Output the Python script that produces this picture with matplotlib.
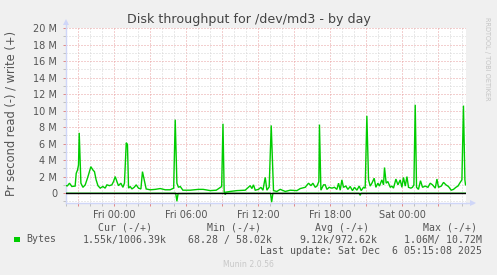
import matplotlib
matplotlib.use("Agg")
import matplotlib.pyplot as plt
from matplotlib.ticker import MultipleLocator, FixedLocator, FixedFormatter
from matplotlib.patches import Rectangle

# ---- data (hours relative to Fri 00:00, values in MB/s) ----
write_hours = [-4.08, -3.92, -3.75, -3.55, -3.28, -3.19, -3.08, -3.0, -2.94, -2.8, -2.63, -2.44,
               -2.3, -2.17, -1.97, -1.8, -1.67, -1.53, -1.38, -1.19, -0.97, -0.78, -0.63, -0.42,
               -0.22, -0.08, 0.06, 0.2, 0.33, 0.53, 0.7, 0.83, 0.98, 1.08, 1.17, 1.31, 1.45, 1.64,
               1.81, 2.0, 2.2, 2.33, 2.48, 2.64, 2.98, 3.39, 3.81, 4.23, 4.64, 4.93, 5.06, 5.2,
               5.33, 5.48, 5.7, 6.31, 6.98, 7.39, 7.98, 8.48, 8.93, 9.04, 9.14, 9.23, 9.64, 10.2,
               10.89, 11.31, 11.45, 11.58, 11.73, 12.0, 12.2, 12.37, 12.56, 12.7, 12.89, 13.06,
               13.25, 13.53, 13.81, 14.23, 14.64, 15.2, 15.48, 15.89, 16.17, 16.37, 16.53, 16.73,
               16.87, 17.03, 17.08, 17.2, 17.42, 17.56, 17.7, 17.89, 18.12, 18.33, 18.53, 18.67,
               18.81, 18.95, 19.08, 19.28, 19.45, 19.64, 19.83, 20.0, 20.2, 20.39, 20.56, 20.75,
               20.89, 21.03, 21.17, 21.31, 21.45, 21.64, 21.78, 21.95, 22.08, 22.28, 22.42, 22.5,
               22.64, 22.78, 22.98, 23.12, 23.25, 23.45, 23.62, 23.81, 23.95, 24.08, 24.23, 24.37,
               24.5, 24.7, 24.83, 24.95, 25.06, 25.17, 25.33, 25.5, 25.67, 25.89, 26.12, 26.31,
               26.5, 26.73, 26.87, 27.0, 27.23, 27.42, 27.62, 27.83, 28.06, 28.25, 28.45, 28.62,
               28.81, 28.95, 29.08, 29.2, 29.25]
write_mb = [0.9, 0.88, 1.2, 0.8, 0.85, 2.4, 2.8, 3.4, 7.3, 1.2, 0.7, 1.0,
            1.6, 2.2, 3.2, 2.8, 2.6, 1.6, 0.9, 0.6, 0.8, 0.6, 1.0, 0.9,
            1.0, 1.4, 2.0, 1.4, 0.9, 1.2, 0.7, 1.2, 6.1, 5.9, 0.6, 0.8, 0.5, 0.7,
            1.0, 0.6, 0.5, 2.6, 1.6, 0.5, 0.4, 0.45, 0.55, 0.4, 0.4, 0.6, 8.9, 1.2,
            0.7, 0.8, 0.35, 0.35, 0.45, 0.45, 0.3, 0.35, 0.8, 8.4, 0.1, 0.1, 0.2, 0.3,
            0.35, 0.9, 0.55, 1.0, 0.35, 0.45, 0.7, 0.35, 1.9, 0.35, 0.75, 8.2,
            0.3, 0.2, 0.45, 0.2, 0.35, 0.3, 0.55, 0.7, 1.2, 0.9, 1.2, 0.7,
            0.85, 1.4, 8.3, 0.35, 1.0, 1.0, 0.45, 0.7, 0.6, 0.7, 0.45, 1.2,
            0.35, 1.6, 0.7, 0.85, 0.45, 0.8, 0.3, 0.7, 0.35, 0.85, 0.3, 0.7,
            0.6, 9.36, 1.6, 0.85, 1.2, 1.8, 0.7, 1.2, 0.85, 1.6, 1.0, 3.1,
            1.2, 1.4, 0.7, 0.85, 0.6, 1.7, 1.0, 1.6, 0.7, 1.9, 0.85, 2.0,
            0.7, 0.6, 0.7, 1.0, 10.7, 0.7, 0.45, 1.5, 0.7, 0.85, 0.7, 1.2,
            1.0, 0.6, 1.7, 0.7, 0.85, 1.3, 1.0, 0.8, 0.35, 0.45, 0.7, 0.85,
            1.3, 1.6, 10.6, 1.6, 1.0]

read_hours = [-4.08, 5.1, 5.2, 5.3, 9.15, 9.23, 9.3, 13.0, 13.1, 13.2, 20.39, 20.47, 20.55, 29.25]
read_mb = [0.02, 0.02, 0.95, 0.05, 0.02, 0.15, 0.02, 0.02, 1.05, 0.02, 0.02, 0.25, 0.02, 0.02]

x_tick_hours = [0, 6, 12, 18, 24]
x_tick_labels = ["Fri 00:00", "Fri 06:00", "Fri 12:00", "Fri 18:00", "Sat 00:00"]
y_tick_values = [0, 2, 4, 6, 8, 10, 12, 14, 16, 18, 20]
y_tick_labels = ["0"] + ["%d M" % v for v in y_tick_values[1:]]

title = "Disk throughput for /dev/md3 - by day"
ylabel = "Pr second read (-) / write (+)"
legend_headers = ["Cur (-/+)", "Min (-/+)", "Avg (-/+)", "Max (-/+)"]
series_name = "Bytes"
cur_val = "1.55k/1006.39k"
min_val = "68.28 / 58.02k"
avg_val = "9.12k/972.62k"
max_val = "1.06M/ 10.72M"
last_update = "Last update: Sat Dec  6 05:15:08 2025"
munin_ver = "Munin 2.0.56"
rrd_credit = "RRDTOOL / TOBI OETIKER"

# ---- figure ----
W, H = 497, 275
fig = plt.figure(figsize=(W / 100, H / 100), dpi=100, facecolor="#F0F0F0")

def fx(px):
    return px / W

def fy(py):
    return 1 - py / H

ax = fig.add_axes([fx(65.5), fy(203), 400 / W, 175 / H])
ax.set_facecolor("#FFFFFF")
ax.set_xlim(-4.083, 29.25)
ax.set_ylim(-1.2, 20.0)

green = "#00CC00"
ax.plot(write_hours, write_mb, color=green, lw=1.0, solid_joinstyle="miter", zorder=3)
ax.plot(read_hours, [-v for v in read_mb], color=green, lw=1.0, zorder=3)
ax.axhline(0, color="#000000", lw=1.0, zorder=4)

# ticks / grid
ax.xaxis.set_minor_locator(MultipleLocator(1))
ax.yaxis.set_major_locator(FixedLocator(y_tick_values))
ax.yaxis.set_major_formatter(FixedFormatter(y_tick_labels))
ax.yaxis.set_minor_locator(MultipleLocator(1))

major_x = list(range(-3, 30, 3))
ax.set_xticks(major_x)
ax.set_xticklabels([x_tick_labels[x_tick_hours.index(t)] if t in x_tick_hours else ""
                    for t in major_x])

dots = (0, (1, 2))
ax.grid(True, which="minor", color="#D4D4D4", lw=0.72, linestyle=dots)
ax.grid(True, which="major", color="#E8A0A0", lw=0.72, linestyle=dots)
ax.set_axisbelow(True)

ax.tick_params(axis="both", which="major", length=2, width=0.72, colors="#E08A8A",
               labelcolor="#555555", labelsize=7)
ax.tick_params(axis="both", which="minor", length=2, width=0.72, colors="#C0C0C0")
ax.tick_params(axis="x", which="major", pad=3)
ax.tick_params(axis="y", which="major", pad=4)

for s in ("top", "right"):
    ax.spines[s].set_visible(False)
for s in ("left", "bottom"):
    ax.spines[s].set_color("#CFD6F8")
    ax.spines[s].set_linewidth(1.0)

# axis arrows
ax.plot([1, 1 + 7 / 400], [0, 0], transform=ax.transAxes, clip_on=False,
        color="#CFD6F8", lw=1.0)
ax.plot([1 + 7 / 400], [0], transform=ax.transAxes, clip_on=False, marker=">",
        markersize=4, color="#CFD6F8", markeredgewidth=0)
ax.plot([0, 0], [1, 1 + 6 / 175], transform=ax.transAxes, clip_on=False,
        color="#CFD6F8", lw=1.0)
ax.plot([0], [1 + 6 / 175], transform=ax.transAxes, clip_on=False, marker="^",
        markersize=4, color="#CFD6F8", markeredgewidth=0)

# texts
fig.text(fx(249), fy(19), title, ha="center", va="center", fontsize=9.1,
         color="#444444", family="DejaVu Sans")
fig.text(fx(11), fy(113), ylabel, ha="center", va="center", rotation=90,
         fontsize=8.3, color="#555555", family="DejaVu Sans")
fig.text(fx(487), fy(59), rrd_credit, ha="center", va="center", rotation=270,
         fontsize=4.7, color="#C4C4C4", family="DejaVu Sans")

mono = dict(family="DejaVu Sans Mono", fontsize=7.1, color="#555555", va="center")
hdr_y = fy(228)
row_y = fy(239.5)
for txt, x0 in zip(legend_headers, [98.3, 206.7, 315.0, 422.7]):
    fig.text(fx(x0), hdr_y, txt, ha="left", **mono)
fig.patches.append(Rectangle((fx(14), fy(242.3)), 5.5 / W, 5.5 / H,
                             transform=fig.transFigure, facecolor=green,
                             edgecolor="none"))
fig.text(fx(26.7), row_y, series_name, ha="left", **mono)
fig.text(fx(166.7), row_y, cur_val, ha="right", **mono)
fig.text(fx(271.7), row_y, min_val, ha="right", **mono)
fig.text(fx(377.7), row_y, avg_val, ha="right", **mono)
fig.text(fx(482.3), row_y, max_val, ha="right", **mono)
fig.text(fx(482.3), fy(251.3), last_update, ha="right", **mono)
fig.text(fx(248), fy(264.5), munin_ver, ha="center", va="center", fontsize=5.6,
         color="#C8C8C8", family="DejaVu Sans")

fig.savefig("out.png", dpi=100, facecolor=fig.get_facecolor())
